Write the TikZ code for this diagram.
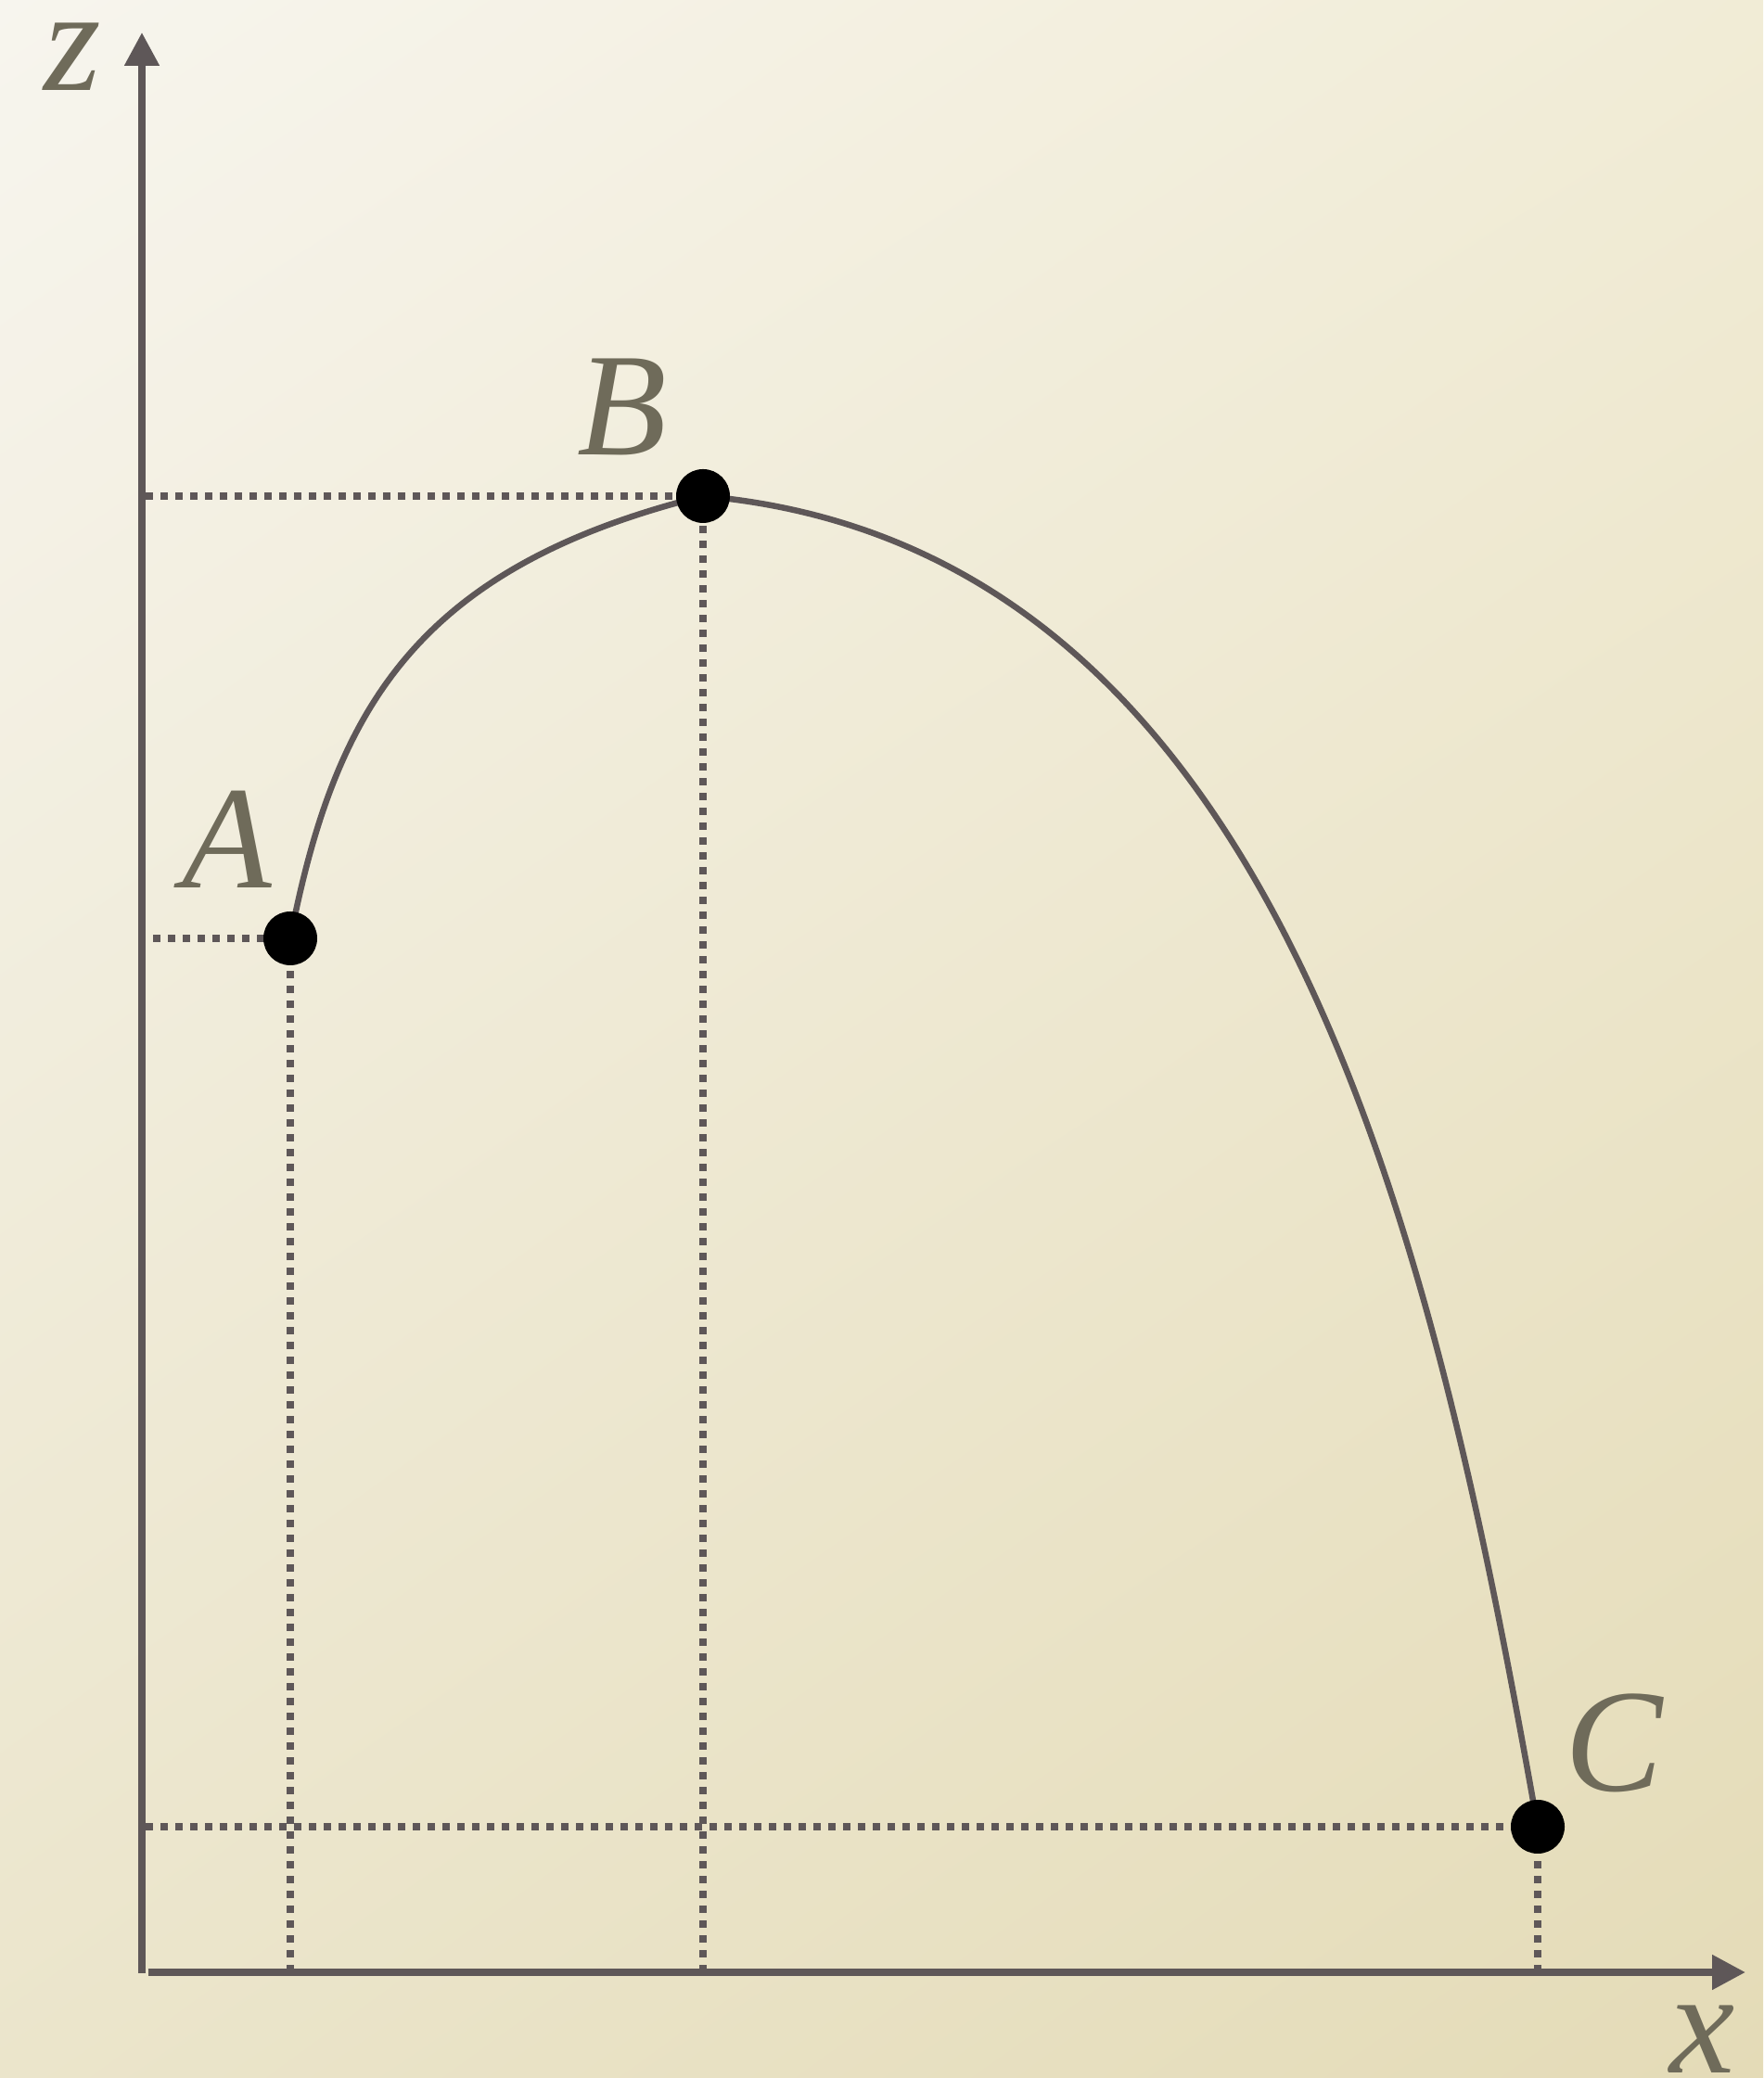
\documentclass[tikz,border=0pt]{standalone}
\usepackage{fontspec}
\setmainfont{Liberation Serif}
\usetikzlibrary{arrows.meta,shadings}
\definecolor{paperTL}{HTML}{F7F5EE}
\definecolor{paperTR}{HTML}{F1ECD6}
\definecolor{paperBL}{HTML}{EBE5CB}
\definecolor{paperBR}{HTML}{E4DBB7}
\definecolor{graphite}{HTML}{5E5758}
\definecolor{olive}{HTML}{6F6B5A}

\begin{document}
\begin{tikzpicture}[
    axisline/.style={draw=graphite,line width=0.08cm,-{Triangle[length=0.36cm,width=0.36cm]}},
    guide/.style={draw=graphite,line width=0.08cm,dash pattern=on 0.08cm off 0.08cm},
    trajectory/.style={draw=graphite,line width=0.065cm},
    dot/.style={circle,fill=black,inner sep=0pt,minimum size=0.58cm},
    letter/.style={color=olive,font=\fontsize{45}{50}\selectfont\itshape,inner sep=0pt}]
        \useasboundingbox (-1.53,-1.14) rectangle (17.48,21.27);
        % paper
        \shade[upper left=paperTL,upper right=paperTR,lower left=paperBL,lower right=paperBR]
            (-1.53,-1.14) rectangle (17.48,21.27);
        % points of the path
        \coordinate (pA) at (1.60,11.15);
        \coordinate (pB) at (6.05,15.92);
        \coordinate (pC) at (15.05,1.57);
        % feet on the axes
        \coordinate (zA) at (0.12,11.15);
        \coordinate (zB) at (0.04,15.92);
        \coordinate (zC) at (0.04,1.57);
        \coordinate (xA) at (1.60,0);
        \coordinate (xB) at (6.05,0);
        \coordinate (xC) at (15.05,0);
        \draw[guide] (zA) -- (pA);
        \draw[guide] (zB) -- (pB);
        \draw[guide] (zC) -- (pC);
        \draw[guide] (xA) -- (pA);
        \draw[guide] (xB) -- (pB);
        \draw[guide] (xC) -- (pC);
        % axes
        \coordinate (origin) at (0,-0.01);
        \coordinate (ztip) at (0,20.92);
        \coordinate (xstart) at (0.065,0);
        \coordinate (xtip) at (17.29,0);
        \draw[axisline] (origin) -- (ztip);
        \draw[axisline] (xstart) -- (xtip);
        % curve
        \draw[trajectory] (pA) .. controls (2.08,13.61) and (2.95,15.15) .. (pB)
            .. controls (12.32,15.37) and (13.95,7.77) .. (pC);
        \node[dot] (A) at (pA) {};
        \node[dot] (B) at (pB) {};
        \node[dot] (C) at (pC) {};
        % labels
        \node[letter] (labelA) at (0.92,12.22) {A};
        \node[letter] (labelB) at (5.18,16.88) {B};
        \node[letter] (labelC) at (15.87,2.47) {C};
        \node[letter] (labelz) at (-0.75,20.66) {z};
        \node[letter] (labelx) at (16.83,-0.72) {x};
\end{tikzpicture}
\end{document}
